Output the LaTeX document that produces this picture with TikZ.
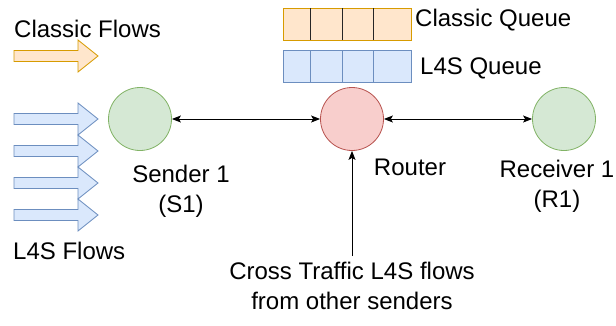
\documentclass[tikz,border=0pt]{standalone}
\usepackage{fontspec}
\setmainfont{Liberation Sans}
\usetikzlibrary{arrows.meta}
\definecolor{orFill}{HTML}{FFE6CC}
\definecolor{orLine}{HTML}{D79B00}
\definecolor{blFill}{HTML}{DAE8FC}
\definecolor{blLine}{HTML}{6C8EBF}
\definecolor{grFill}{HTML}{D5E8D4}
\definecolor{grLine}{HTML}{82B366}
\definecolor{rdFill}{HTML}{F8CECC}
\definecolor{rdLine}{HTML}{B85450}
\tikzset{
  lbl/.style={font=\fontsize{24}{30}\selectfont, inner sep=0pt, align=center},
  endpoint/.style={circle, draw=grLine, fill=grFill, line width=0.8pt, minimum size=63pt, inner sep=0pt},
  routernode/.style={circle, draw=rdLine, fill=rdFill, line width=0.8pt, minimum size=63pt, inner sep=0pt},
  link/.style={line width=1pt, -{Stealth[length=9pt,width=7pt,inset=2pt]}},
  biglink/.style={line width=1pt, {Stealth[length=9pt,width=7pt,inset=2pt]}-{Stealth[length=9pt,width=7pt,inset=2pt]}},
  flowarrow/.pic={
    \draw[line width=0.8pt, pic actions] (0,-5.5) -- (64,-5.5) -- (64,-16) -- (84,0) -- (64,16) -- (64,5.5) -- (0,5.5) -- cycle;
  },
  qcell/.style={line width=0.8pt}
}
\begin{document}
\begin{tikzpicture}[x=1pt,y=-1pt]
\useasboundingbox (0,0) rectangle (616,325);
% flows
\pic[draw=orLine, fill=orFill] at (14,56) {flowarrow};
\pic[draw=blLine, fill=blFill] at (14,119) {flowarrow};
\pic[draw=blLine, fill=blFill] at (14,151) {flowarrow};
\pic[draw=blLine, fill=blFill] at (14,183) {flowarrow};
\pic[draw=blLine, fill=blFill] at (14,215) {flowarrow};
\node[lbl, anchor=base west] (cflows) at (14,37) {Classic Flows};
\node[lbl, anchor=base west] (lflows) at (13,259) {L4S Flows};
% queues
\draw[qcell, draw=orLine, fill=orFill] (283,8) rectangle (411,40);
\draw[qcell, draw=black!85] (310,8) -- (310,40) (342,8) -- (342,40) (373,8) -- (373,40);
\draw[qcell, draw=blLine, fill=blFill] (283,50) rectangle (411,82);
\draw[qcell, draw=blLine] (310,50) -- (310,82) (342,50) -- (342,82) (373,50) -- (373,82);
\node[lbl, anchor=base west] (cq) at (415,26) {Classic Queue};
\node[lbl, anchor=base west] (lq) at (420,74) {L4S Queue};
% nodes
\node[endpoint] (s1) at (140,119) {};
\node[routernode] (router) at (352,119) {};
\node[endpoint] (r1) at (564,119) {};
\node[lbl, anchor=base] (s1l) at (181,212) {Sender 1\\(S1)};
\node[lbl, anchor=base] (rl) at (410,175) {Router};
\node[lbl, anchor=base] (r1l) at (557,207) {Receiver 1\\(R1)};
\node[lbl, anchor=base] (cross) at (352,309) {Cross Traffic L4S flows\\from other senders};
\coordinate (crossend) at (352,256);
% connectors
\draw[biglink] (s1) -- (router);
\draw[biglink] (router) -- (r1);
\draw[link] (crossend) -- (router);
\end{tikzpicture}
\end{document}
